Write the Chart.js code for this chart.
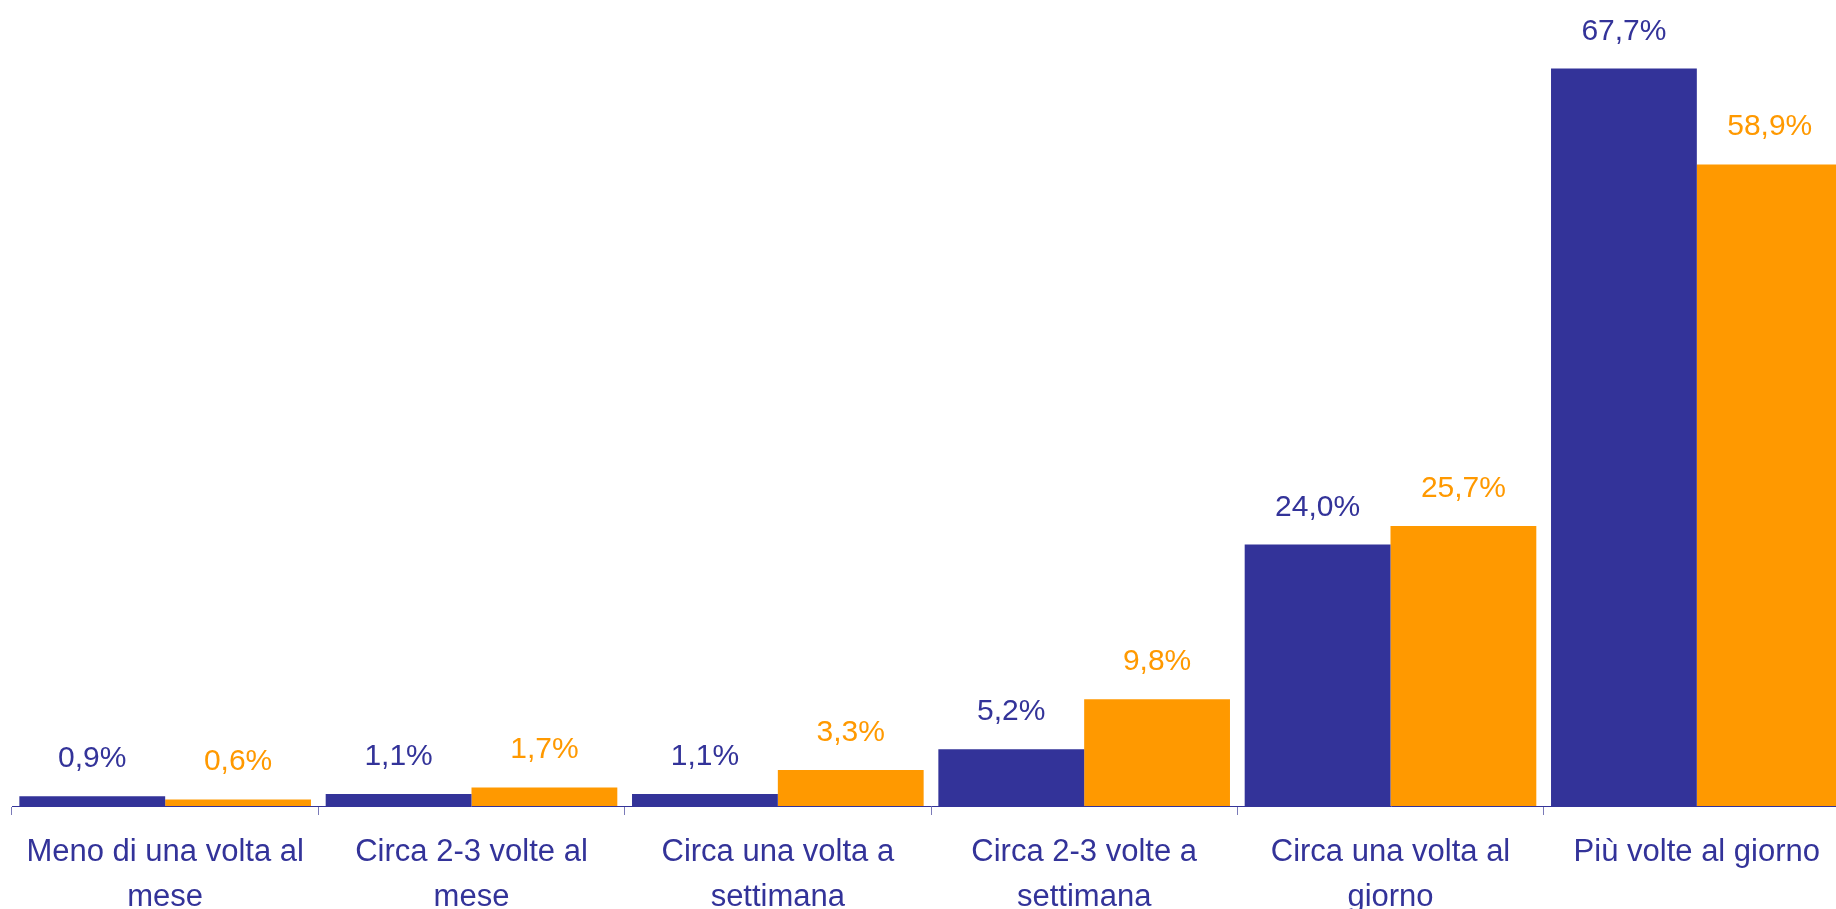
<!DOCTYPE html>
<html>
<head>
<meta charset="utf-8">
<script src="https://cdn.jsdelivr.net/npm/chart.js@4/dist/chart.umd.min.js"></script>
<style>
  html, body { margin: 0; padding: 0; background: #fff; overflow: hidden; }
  .wrap { position: relative; width: 1850px; height: 909px; }
</style>
</head>
<body>
<div class="wrap"><canvas class="my-chart"></canvas></div>
<script>
const categories = [
    ["Meno di una volta al", "mese"],
    ["Circa 2-3 volte al", "mese"],
    ["Circa una volta a", "settimana"],
    ["Circa 2-3 volte a", "settimana"],
    ["Circa una volta al", "giorno"],
    "Più volte al giorno"
];
const serieBlu = [0.9, 1.1, 1.1, 5.2, 24.0, 67.7];
const serieArancio = [0.6, 1.7, 3.3, 9.8, 25.7, 58.9];

const BLUE = '#333399';
const ORANGE = '#FF9900';

// percent labels above each bar, italian decimal comma
const barLabels = {
    id: 'barLabels',
    afterDatasetsDraw(chart) {
        const ctx = chart.ctx;
        ctx.save();
        ctx.font = '30px "Liberation Sans", Arial, sans-serif';
        ctx.textAlign = 'center';
        ctx.textBaseline = 'alphabetic';
        chart.data.datasets.forEach((ds, i) => {
            const meta = chart.getDatasetMeta(i);
            ctx.fillStyle = ds.backgroundColor;
            meta.data.forEach((bar, j) => {
                const txt = ds.data[j].toFixed(1).replace('.', ',') + '%';
                ctx.fillText(txt, bar.x, bar.y - 29);
            });
        });
        ctx.restore();
    }
};

new Chart(document.querySelector(".my-chart"), {
    type: "bar",
    data: {
        labels: categories,
        datasets: [
            { label: "Serie 1", data: serieBlu, backgroundColor: BLUE },
            { label: "Serie 2", data: serieArancio, backgroundColor: ORANGE }
        ]
    },
    options: {
        responsive: true,
        maintainAspectRatio: false,
        animation: false,
        layout: { padding: { left: 12, right: 0, top: 0, bottom: 0 } },
        datasets: {
            bar: { barPercentage: 1, categoryPercentage: 0.952 }
        },
        scales: {
            x: {
                grid: {
                    offset: true,
                    drawOnChartArea: false,
                    tickLength: 9,
                    color: '#7a7ab8'
                },
                border: { display: true, color: BLUE, width: 1 },
                ticks: {
                    color: BLUE,
                    maxRotation: 0,
                    autoSkip: false,
                    padding: 15,
                    font: { family: '"Liberation Sans", Arial, sans-serif', size: 31, lineHeight: 1.45 }
                },
                afterFit(scale) { scale.height = 103; }
            },
            y: {
                display: false,
                min: 0,
                max: 74
            }
        },
        plugins: {
            legend: { display: false },
            tooltip: { enabled: false }
        }
    },
    plugins: [barLabels]
});
</script>
</body>
</html>
